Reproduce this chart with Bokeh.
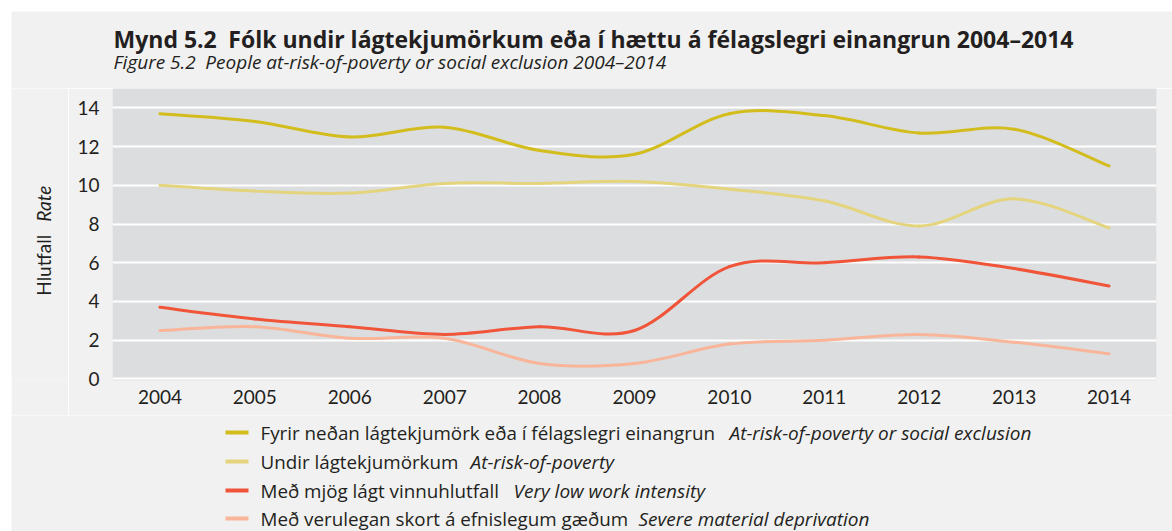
from bokeh.plotting import figure
from bokeh.models import Range1d, FixedTicker, ColumnDataSource
from bokeh.layouts import column, row
from bokeh.core.properties import value
from bokeh.embed import file_html
from bokeh.resources import INLINE

# ---------------- data ----------------
years = [2004, 2005, 2006, 2007, 2008, 2009, 2010, 2011, 2012, 2013, 2014]
arope = [13.7, 13.3, 12.5, 13.0, 11.8, 11.6, 13.7, 13.6, 12.7, 12.9, 11.0]
poverty = [10.0, 9.7, 9.6, 10.1, 10.1, 10.2, 9.8, 9.2, 7.9, 9.3, 7.8]
low_work = [3.7, 3.1, 2.7, 2.3, 2.7, 2.5, 5.8, 6.0, 6.3, 5.7, 4.8]
deprivation = [2.5, 2.7, 2.1, 2.1, 0.8, 0.8, 1.8, 2.0, 2.3, 1.9, 1.3]
y_ticks = [0, 2, 4, 6, 8, 10, 12, 14]

labels_is = ["Fyrir neðan lágtekjumörk eða í félagslegri einangrun",
             "Undir lágtekjumörkum",
             "Með mjög lágt vinnuhlutfall",
             "Með verulegan skort á efnislegum gæðum"]
labels_en = ["At-risk-of-poverty or social exclusion",
             "At-risk-of-poverty",
             "Very low work intensity",
             "Severe material deprivation"]
title_text = "Mynd 5.2\u2002Fólk undir lágtekjumörkum eða í hættu á félagslegri einangrun 2004–2014"
subtitle_text = "Figure 5.2\u2002People at-risk-of-poverty or social exclusion 2004–2014"

colors = ["#d3bd1d", "#e4d47d", "#f0553a", "#f9b59a"]
series = [arope, poverty, low_work, deprivation]

# ---------------- style ----------------
BG = "#f1f1f1"
FRAME = "#dcdddf"
TXT = "#231f20"
FONT = "Open Sans"


def blank(p):
    p.axis.visible = False
    p.grid.visible = False
    p.outline_line_color = None
    p.background_fill_color = BG
    p.border_fill_color = BG
    return p


def bezier_source(xs, ys):
    n = len(xs)
    d = dict(x0=[], y0=[], x1=[], y1=[], cx0=[], cy0=[], cx1=[], cy1=[])
    for i in range(n - 1):
        im = max(i - 1, 0)
        ip = min(i + 2, n - 1)
        d["x0"].append(xs[i]); d["y0"].append(ys[i])
        d["x1"].append(xs[i + 1]); d["y1"].append(ys[i + 1])
        d["cx0"].append(xs[i] + (xs[i + 1] - xs[im]) / 6.0)
        d["cy0"].append(ys[i] + (ys[i + 1] - ys[im]) / 6.0)
        d["cx1"].append(xs[i + 1] - (xs[ip] - xs[i]) / 6.0)
        d["cy1"].append(ys[i + 1] - (ys[ip] - ys[i]) / 6.0)
    return ColumnDataSource(d)


# ---------------- title ----------------
tf = blank(figure(width=1161, height=77, x_range=Range1d(11, 1172), y_range=Range1d(88, 11),
                  toolbar_location=None, output_backend="svg", min_border=0))
tf.text(x=[113], y=[38], text=[title_text], text_font=value(FONT), text_font_style="bold",
        text_font_size="23px", text_color=TXT, text_baseline="middle", text_align="left")
tf.text(x=[113], y=[61], text=[subtitle_text], text_font=value(FONT), text_font_style="italic",
        text_font_size="19px", text_color=TXT, text_baseline="middle", text_align="left")

# ---------------- y label ----------------
yf = blank(figure(width=57, height=327, x_range=Range1d(11, 68), y_range=Range1d(415, 88),
                  toolbar_location=None, output_backend="svg", min_border=0))
yf.text(x=[43], y=[286], text=["Hlutfall"], angle=1.5707963, text_font=value("Lato"),
        text_font_size="19px", text_color=TXT, text_baseline="middle", text_align="center")
yf.text(x=[43], y=[217], text=["Rate"], angle=1.5707963, text_font=value("Lato"),
        text_font_style="italic", text_font_size="19px", text_color=TXT,
        text_baseline="middle", text_align="center")

# ---------------- main plot ----------------
p = figure(width=1104, height=327, x_range=Range1d(2003.5, 2014.5), y_range=Range1d(-0.08, 15.0),
           toolbar_location=None, output_backend="svg",
           min_border_left=44, min_border_right=16, min_border_top=0, min_border_bottom=35)
p.background_fill_color = FRAME
p.border_fill_color = BG
p.outline_line_color = None
p.xgrid.visible = False
p.ygrid.ticker = FixedTicker(ticks=y_ticks)
p.ygrid.grid_line_color = "white"
p.ygrid.grid_line_width = 2
p.yaxis.ticker = FixedTicker(ticks=y_ticks)
p.xaxis.ticker = FixedTicker(ticks=years)
for ax in (p.xaxis, p.yaxis):
    ax.axis_line_color = None
    ax.major_tick_line_color = None
    ax.minor_tick_line_color = None
    ax.major_tick_in = 0
    ax.major_tick_out = 0
    ax.minor_tick_in = 0
    ax.minor_tick_out = 0
    ax.major_label_text_font = "Lato"
    ax.major_label_text_font_size = "19px"
    ax.major_label_text_color = TXT
p.yaxis.major_label_standoff = 13
p.xaxis.major_label_standoff = 9

for ys, c in zip(series, colors):
    p.bezier(x0="x0", y0="y0", x1="x1", y1="y1", cx0="cx0", cy0="cy0", cx1="cx1", cy1="cy1",
             source=bezier_source(years, ys), line_color=c, line_width=3, line_cap="round")

# ---------------- legend ----------------
lf = blank(figure(width=1161, height=116, x_range=Range1d(11, 1172), y_range=Range1d(531, 415),
                  toolbar_location=None, output_backend="svg", min_border=0))
rows_y = [432, 461, 490, 518]
italic_x = [729, 470, 513, 638]
lf.segment(x0=[225] * 4, x1=[248] * 4, y0=rows_y, y1=rows_y, line_color=colors, line_width=4)
lf.text(x=[260] * 4, y=rows_y, text=labels_is, text_font=value(FONT),
        text_font_size="18.8px", text_color=TXT, text_baseline="middle", text_align="left")
lf.text(x=italic_x, y=rows_y, text=labels_en, text_font=value(FONT),
        text_font_style="italic", text_font_size="19px", text_color=TXT,
        text_baseline="middle", text_align="left")

layout = column(tf, row(yf, p), lf, margin=(11, 0, 0, 11))
open("out.html", "w").write(file_html(layout, INLINE))
